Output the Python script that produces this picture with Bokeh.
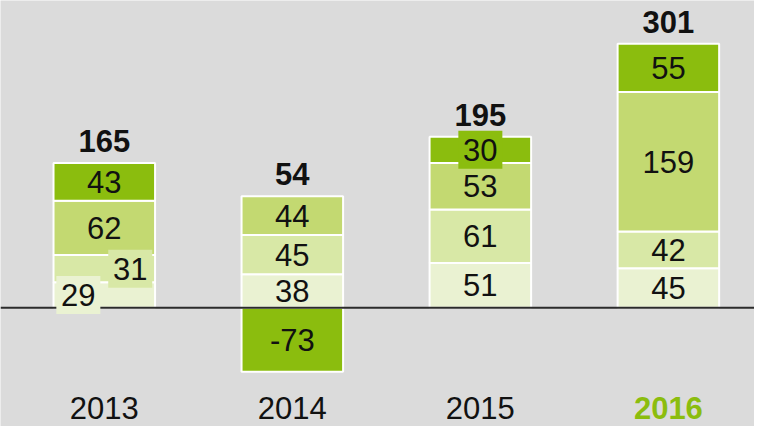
from bokeh.plotting import figure
from bokeh.models import ColumnDataSource, Range1d
from bokeh.core.properties import value
from bokeh.embed import file_html
from bokeh.resources import INLINE

# ---- data ----
years = ["2013", "2014", "2015", "2016"]
seg1 = [29, 38, 51, 45]      # lightest (bottom)
seg2 = [31, 45, 61, 42]
seg3 = [62, 44, 53, 159]
seg4 = [43, -73, 30, 55]     # darkest (top / negative)
totals = [165, 54, 195, 301]

# ---- styling ----
colors = ["#eaf2d2", "#d8e8a6", "#c3d971", "#8bbd0e"]
FONT = "Liberation Sans"
FS = "31px"
Y_MIN, Y_MAX = -135.5, 350.3
X_MIN, X_MAX = -0.552, 3.458
W = 0.54

xs = list(range(len(years)))
series = [seg1, seg2, seg3, seg4]

p = figure(width=754, height=426, output_backend="svg", toolbar_location=None,
           x_range=Range1d(X_MIN, X_MAX), y_range=Range1d(Y_MIN, Y_MAX),
           min_border=0)
p.background_fill_color = "#dbdbdb"
p.border_fill_color = "#dbdbdb"
p.outline_line_color = None
p.axis.visible = False
p.grid.visible = False

# stacking
pos = [0.0] * len(xs)
neg = [0.0] * len(xs)
lab_x, lab_y, lab_t, lab_c = [], [], [], []
for si, vals in enumerate(series):
    bottoms, tops = [], []
    for i, v in enumerate(vals):
        if v >= 0:
            b, t = pos[i], pos[i] + v
            pos[i] = t
        else:
            b, t = neg[i] + v, neg[i]
            neg[i] = b
        bottoms.append(b)
        tops.append(t)
        lab_x.append(xs[i]); lab_y.append((b + t) / 2); lab_t.append(str(v)); lab_c.append(colors[si])
    p.vbar(x=xs, bottom=bottoms, top=tops, width=W, fill_color=colors[si],
           line_color="white", line_width=2)

# zero line
p.segment(x0=[X_MIN], y0=[0], x1=[X_MAX], y1=[0], line_color="#2b2b2b", line_width=2)

# segment labels; a few labels get sideways offsets and boxes (styling)
n = len(xs)
boxed = {(0, 0): -0.138, (1, 0): 0.138, (3, 2): 0.0}  # (series, year) -> x shift
plain = dict(x=[], y=[], t=[])
bx = dict(x=[], y=[], t=[], c=[])
for k in range(len(lab_t)):
    si, i = divmod(k, n)
    if (si, i) in boxed:
        bx["x"].append(lab_x[k] + boxed[(si, i)]); bx["y"].append(lab_y[k])
        bx["t"].append(lab_t[k]); bx["c"].append(lab_c[k])
    else:
        plain["x"].append(lab_x[k]); plain["y"].append(lab_y[k]); plain["t"].append(lab_t[k])

bsrc = ColumnDataSource(bx)
p.rect(x="x", y="y", width=44, height=38, width_units="screen", height_units="screen",
       fill_color="c", line_color=None, source=bsrc)
p.text(x="x", y="y", text="t", source=ColumnDataSource(plain),
       text_font=value(FONT), text_font_size=FS, text_color="#111111",
       text_align="center", text_baseline="middle")
p.text(x="x", y="y", text="t", source=bsrc,
       text_font=value(FONT), text_font_size=FS, text_color="#111111",
       text_align="center", text_baseline="middle")

# totals
p.text(x=xs, y=pos, text=[str(t) for t in totals], y_offset=-22,
       text_font=value(FONT), text_font_size=FS, text_font_style="bold",
       text_color="#111111", text_align="center", text_baseline="middle")

# year labels
ycol = ["#111111"] * (len(years) - 1) + ["#8bbd0e"]
ystyle = ["normal"] * (len(years) - 1) + ["bold"]
p.text(x=xs, y=[Y_MIN] * len(xs), text=years, y_offset=-19,
       text_font=value(FONT), text_font_size=FS, text_color=ycol,
       text_font_style=ystyle, text_align="center", text_baseline="middle")

open("out.html", "w").write(file_html(p, INLINE))
